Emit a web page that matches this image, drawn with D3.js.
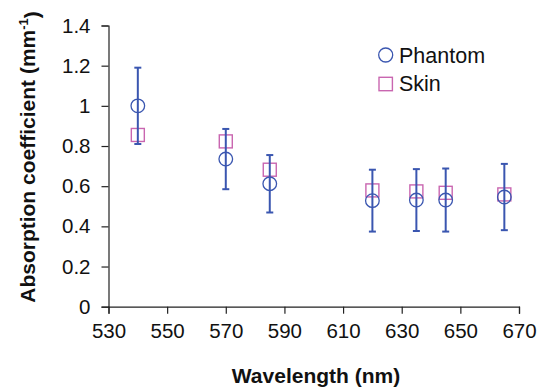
<!DOCTYPE html>
<html>
<head>
<meta charset="utf-8">
<script src="https://d3js.org/d3.v7.min.js"></script>
<style>
  body { margin: 0; background: #fff; }
  text { font-family: "Liberation Sans", Arial, sans-serif; fill: #111; }
</style>
</head>
<body>
<svg id="chart" width="548" height="391"></svg>
<script>
// wavelengths (nm)
const wavelengths = [540, 570, 585, 620, 635, 645, 665];
// phantom absorption coefficient and its error (mm^-1)
const phantom = [1.00, 0.735, 0.612, 0.528, 0.531, 0.531, 0.546];
const phantomErr = [0.19, 0.15, 0.143, 0.154, 0.154, 0.157, 0.165];
// skin absorption coefficient (mm^-1)
const skin = [0.855, 0.823, 0.682, 0.579, 0.574, 0.567, 0.559];

const xTicks = [530, 550, 570, 590, 610, 630, 650, 670];
const yTicks = [0, 0.2, 0.4, 0.6, 0.8, 1, 1.2, 1.4];

const blue = "#3a56b0";
const pink = "#c966b0";

const svg = d3.select("#chart");
const margin = { left: 108.5, right: 29, top: 25.5, bottom: 84.3 };
const width = 548, height = 391;

const x = d3.scaleLinear().domain([530, 670]).range([margin.left, width - margin.right]);
const y = d3.scaleLinear().domain([0, 1.4]).range([height - margin.bottom, margin.top]);

// axes
const xAxis = svg.append("g")
    .attr("transform", `translate(0,${y(0)})`)
    .call(d3.axisBottom(x).tickValues(xTicks).tickSize(7).tickPadding(10).tickFormat(d3.format("d")));
const yAxis = svg.append("g")
    .attr("transform", `translate(${x(530)},0)`)
    .call(d3.axisLeft(y).tickValues(yTicks).tickSize(7).tickPadding(11).tickFormat(d => d3.format("")(d)));

[xAxis, yAxis].forEach(a => {
    a.select(".domain").attr("stroke", "#222").attr("stroke-width", 1.2);
    a.selectAll(".tick line").attr("stroke", "#222").attr("stroke-width", 1.2);
    a.selectAll(".tick text")
     .style("font-family", "'Liberation Sans', Arial, sans-serif")
     .style("font-size", "20.5px")
     .attr("fill", "#111");
});
xAxis.selectAll(".tick text").attr("dy", "0.71em");

// axis titles
svg.append("text")
   .attr("x", 316)
   .attr("y", 383)
   .attr("text-anchor", "middle")
   .style("font-size", "21px")
   .style("font-weight", "bold")
   .text("Wavelength (nm)");

const yTitle = svg.append("text")
   .attr("transform", `translate(35,157) rotate(-90)`)
   .attr("text-anchor", "middle")
   .style("font-size", "21px")
   .style("font-weight", "bold");
yTitle.append("tspan").text("Absorption coefficient (mm");
yTitle.append("tspan").attr("dy", "-0.55em").style("font-size", "13px").text("-1");
yTitle.append("tspan").attr("dy", "0.55em").text(")");

// skin squares
const sq = 13;
svg.append("g").selectAll("rect")
   .data(wavelengths)
   .join("rect")
   .attr("x", (d) => x(d) - sq / 2)
   .attr("y", (d, i) => y(skin[i]) - sq / 2)
   .attr("width", sq)
   .attr("height", sq)
   .attr("fill", "none")
   .attr("stroke", pink)
   .attr("stroke-width", 1.4);

// phantom circles
svg.append("g").selectAll("circle")
   .data(wavelengths)
   .join("circle")
   .attr("cx", d => x(d))
   .attr("cy", (d, i) => y(phantom[i]))
   .attr("r", 6.8)
   .attr("fill", "none")
   .attr("stroke", blue)
   .attr("stroke-width", 1.3);

// phantom error bars
const eb = svg.append("g").attr("stroke", blue).attr("stroke-width", 2);
wavelengths.forEach((w, i) => {
    const top = y(phantom[i] + phantomErr[i]);
    const bot = y(phantom[i] - phantomErr[i]);
    eb.append("line").attr("x1", x(w)).attr("x2", x(w)).attr("y1", top).attr("y2", bot);
    eb.append("line").attr("x1", x(w) - 3.5).attr("x2", x(w) + 3.5).attr("y1", top).attr("y2", top);
    eb.append("line").attr("x1", x(w) - 3.5).attr("x2", x(w) + 3.5).attr("y1", bot).attr("y2", bot);
});

// legend
const legend = svg.append("g");
legend.append("circle")
      .attr("cx", 385.7).attr("cy", 55).attr("r", 7)
      .attr("fill", "none").attr("stroke", blue).attr("stroke-width", 1.3);
legend.append("rect")
      .attr("x", 385.7 - 6.7).attr("y", 84 - 6.7).attr("width", 13.4).attr("height", 13.4)
      .attr("fill", "none").attr("stroke", pink).attr("stroke-width", 1.4);
legend.append("text").attr("x", 399).attr("y", 62.5).style("font-size", "21.5px").text("Phantom");
legend.append("text").attr("x", 399).attr("y", 91).style("font-size", "21.5px").text("Skin");
</script>
</body>
</html>
